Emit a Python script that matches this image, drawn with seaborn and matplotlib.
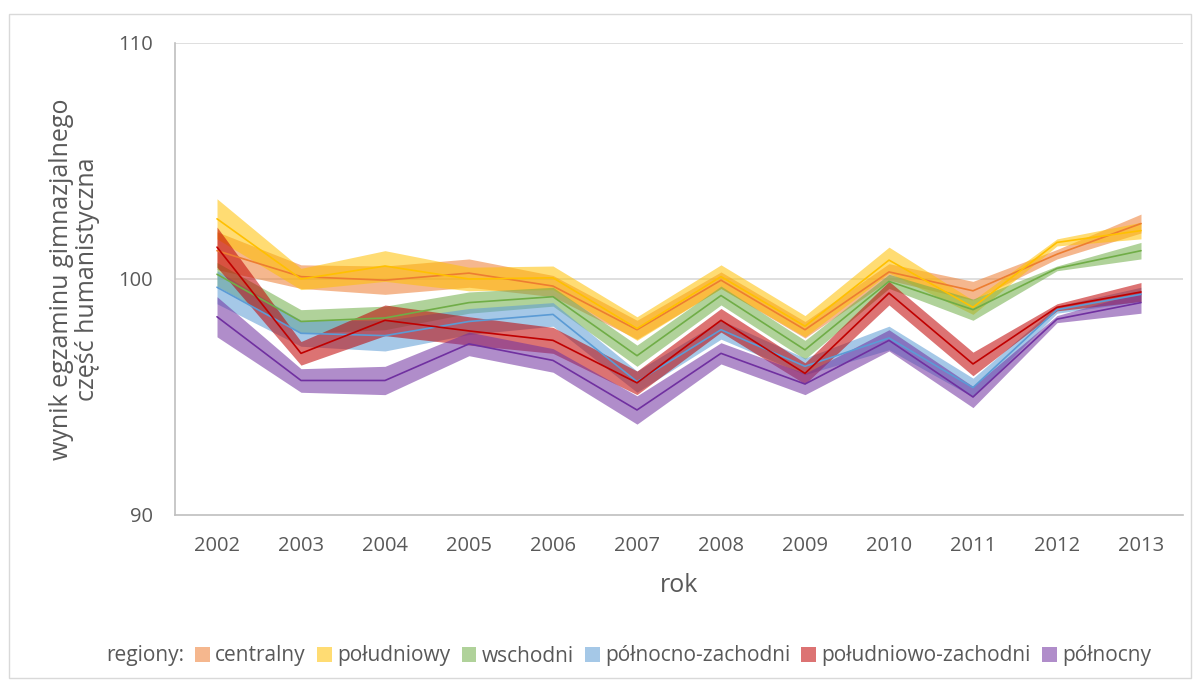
import numpy as np
import pandas as pd
import matplotlib
matplotlib.use("Agg")
import matplotlib.pyplot as plt
import seaborn as sns
from matplotlib.patches import Patch, Rectangle

# --- data -------------------------------------------------------------
years = [2002, 2003, 2004, 2005, 2006, 2007, 2008, 2009, 2010, 2011, 2012, 2013]
regions = ["centralny", "południowy", "wschodni", "północno-zachodni",
           "południowo-zachodni", "północny"]

# mean score per year
centralny = [101.2, 100.1, 99.95, 100.25, 99.7, 97.85, 99.95, 97.85, 100.3, 99.5, 101.05, 102.35]
poludniowy = [102.55, 100.0, 100.55, 100.0, 100.05, 97.9, 100.1, 98.0, 100.8, 98.8, 101.55, 102.05]
wschodni = [100.2, 98.2, 98.35, 99.0, 99.25, 96.75, 99.3, 97.0, 99.9, 98.7, 100.45, 101.2]
pn_zachodni = [99.65, 97.7, 97.6, 98.2, 98.5, 95.65, 97.85, 96.3, 97.5, 95.4, 98.7, 99.35]
pd_zachodni = [101.35, 96.85, 98.25, 97.8, 97.4, 95.6, 98.25, 96.0, 99.4, 96.4, 98.8, 99.45]
polnocny = [98.4, 95.7, 95.7, 97.25, 96.55, 94.45, 96.85, 95.55, 97.4, 95.0, 98.3, 99.0]

# half-width of the confidence band per year
centralny_ci = [0.8, 0.5, 0.6, 0.6, 0.45, 0.4, 0.35, 0.35, 0.35, 0.4, 0.2, 0.4]
poludniowy_ci = [0.85, 0.45, 0.65, 0.5, 0.5, 0.5, 0.5, 0.45, 0.55, 0.3, 0.15, 0.35]
wschodni_ci = [0.5, 0.5, 0.5, 0.45, 0.4, 0.45, 0.4, 0.4, 0.3, 0.45, 0.1, 0.35]
pn_zachodni_ci = [0.7, 0.55, 0.65, 0.55, 0.5, 0.45, 0.4, 0.35, 0.5, 0.4, 0.15, 0.3]
pd_zachodni_ci = [0.85, 0.5, 0.65, 0.6, 0.55, 0.5, 0.5, 0.45, 0.5, 0.5, 0.15, 0.4]
polnocny_ci = [0.85, 0.5, 0.6, 0.5, 0.5, 0.6, 0.45, 0.45, 0.45, 0.45, 0.15, 0.45]

means = [centralny, poludniowy, wschodni, pn_zachodni, pd_zachodni, polnocny]
halfs = [centralny_ci, poludniowy_ci, wschodni_ci, pn_zachodni_ci, pd_zachodni_ci, polnocny_ci]
colors = ["#ED7D31", "#FFC000", "#70AD47", "#5B9BD5", "#C00000", "#7030A0"]
palette = dict(zip(regions, colors))

rows = []
for reg, m, h in zip(regions, means, halfs):
    for i, y in enumerate(years):
        rows.append({"pos": i, "rok": y, "region": reg, "wynik": m[i],
                     "low": m[i] - h[i], "high": m[i] + h[i]})
df = pd.DataFrame(rows)

# --- style ------------------------------------------------------------
sns.set_style("white")
plt.rcParams["font.family"] = ["Open Sans", "DejaVu Sans"]
text_col = "#595959"
grid_col = "#D9D9D9"
fs_tick = 14.5
fs_title = 18
fs_leg = 15

fig = plt.figure(figsize=(12.01, 6.85), dpi=100)
ax = fig.add_axes([175 / 1201, 1 - 515 / 685, 1008 / 1201, 472 / 685])

# confidence bands first, lines on top
for reg in regions:
    sub = df[df["region"] == reg]
    ax.fill_between(sub["pos"], sub["low"], sub["high"], color=palette[reg],
                    alpha=0.55, linewidth=0, zorder=2)

sns.lineplot(data=df, x="pos", y="wynik", hue="region", palette=palette,
             hue_order=regions, linewidth=1.2, legend=False, ax=ax, zorder=3)

# axes
ax.set_xlim(-0.5, len(years) - 0.5)
ax.set_ylim(90, 110)
ax.set_xticks(range(len(years)))
ax.set_xticklabels([str(y) for y in years])
ax.set_xticks(np.arange(-0.5, len(years), 1.0), minor=True)
ax.set_yticks([90, 100, 110])
ax.tick_params(axis="x", which="major", length=0, pad=15, labelsize=fs_tick, colors=text_col)
ax.tick_params(axis="x", which="minor", length=6, width=1, color="#BFBFBF", direction="out")
ax.tick_params(axis="y", which="major", length=0, pad=16, labelsize=fs_tick, colors=text_col)
for t in ax.get_xticklabels() + ax.get_yticklabels():
    t.set_color(text_col)

ax.grid(False)
ax.axhline(100, color=grid_col, lw=1.2, zorder=1)
ax.axhline(110, color=grid_col, lw=1.2, zorder=1)
for side in ["top", "right"]:
    ax.spines[side].set_visible(False)
for side in ["left", "bottom"]:
    ax.spines[side].set_color("#BFBFBF")
    ax.spines[side].set_linewidth(1.2)

ax.set_xlabel("rok", fontsize=fs_title, color=text_col, labelpad=12)
ax.set_ylabel("wynik egzaminu gimnazjalnego\nczęść humanistyczna",
              fontsize=fs_title, color=text_col, labelpad=13, linespacing=1.05)

# legend: label followed by colour squares
handles = [Patch(visible=False)] + [Patch(facecolor=c, alpha=0.55, edgecolor="none") for c in colors]
labels = ["regiony:"] + regions
leg = fig.legend(handles, labels, loc="center", bbox_to_anchor=(0.515, 1 - 656 / 685),
                 ncol=7, frameon=False, fontsize=fs_leg, handlelength=0.7, handleheight=0.7,
                 handletextpad=0.25, columnspacing=0.55)
for t in leg.get_texts():
    t.set_color(text_col)

# chart border
fig.patches.append(Rectangle((9 / 1201, 1 - 678 / 685), 1182 / 1201, 664 / 685,
                             transform=fig.transFigure, fill=False,
                             edgecolor=grid_col, linewidth=1))

fig.savefig("out.png", dpi=100)
